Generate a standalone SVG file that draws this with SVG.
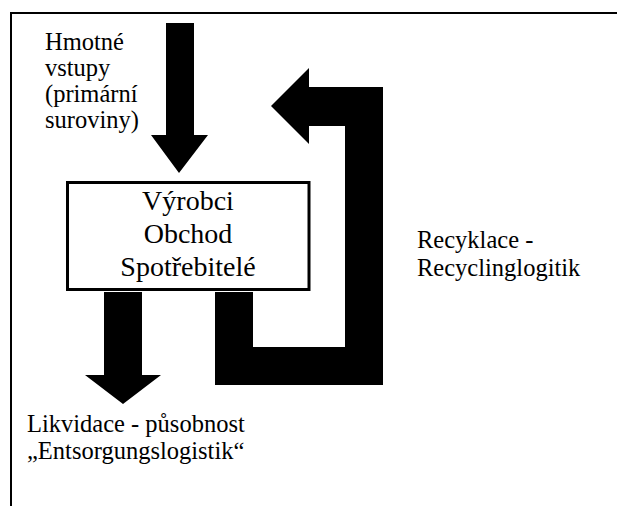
<svg xmlns="http://www.w3.org/2000/svg" width="617" height="506" viewBox="0 0 617 506">
<style>
text{font-family:'Liberation Serif','Times New Roman','DejaVu Serif',serif;fill:#000}
.lbl{font-size:24.5px}
.box{font-size:28px;text-anchor:middle}
.frame{stroke:#000;stroke-width:2;fill:none}
.arrow{fill:#000;stroke:none}
</style>
<rect width="617" height="506" fill="#fff"/>
<path class="frame" d="M11,506 V13 H617"/>
<g id="connectors">
<path id="input-arrow" class="arrow" d="M166,23 H194 V135 H208 L179,173 L151,135 H166 Z"/>
<path id="recycle-arrow" class="arrow" d="M215,292 V385 H383 V87 H309 V68 L271,106 L309,144 V126 H345 V347 H253 V292 Z"/>
<path id="disposal-arrow" class="arrow" d="M104,292 H142 V375 H161 L123,404 L85,375 H104 Z"/>
</g>
<g id="node-box" font-family="Liberation Serif, DejaVu Serif, serif">
<rect x="67.5" y="182.5" width="241.5" height="107" fill="#fff" stroke="#000" stroke-width="3"/>
<text class="box" x="188" y="210">Výrobci</text>
<text class="box" x="188" y="243">Obchod</text>
<text class="box" x="188" y="276">Spotřebitelé</text>
</g>
<g id="label-input" font-family="Liberation Serif, DejaVu Serif, serif">
<text class="lbl" x="45" y="50">Hmotné</text>
<text class="lbl" x="45" y="76">vstupy</text>
<text class="lbl" x="45" y="102">(primární</text>
<text class="lbl" x="45" y="128">suroviny)</text>
</g>
<g id="label-recycle" font-family="Liberation Serif, DejaVu Serif, serif">
<text class="lbl" x="417" y="248">Recyklace -</text>
<text class="lbl" x="417" y="276">Recyclinglogitik</text>
</g>
<g id="label-disposal" font-family="Liberation Serif, DejaVu Serif, serif">
<text class="lbl" x="27" y="432">Likvidace - působnost</text>
<text class="lbl" x="27" y="459">„Entsorgungslogistik“</text>
</g>
</svg>
